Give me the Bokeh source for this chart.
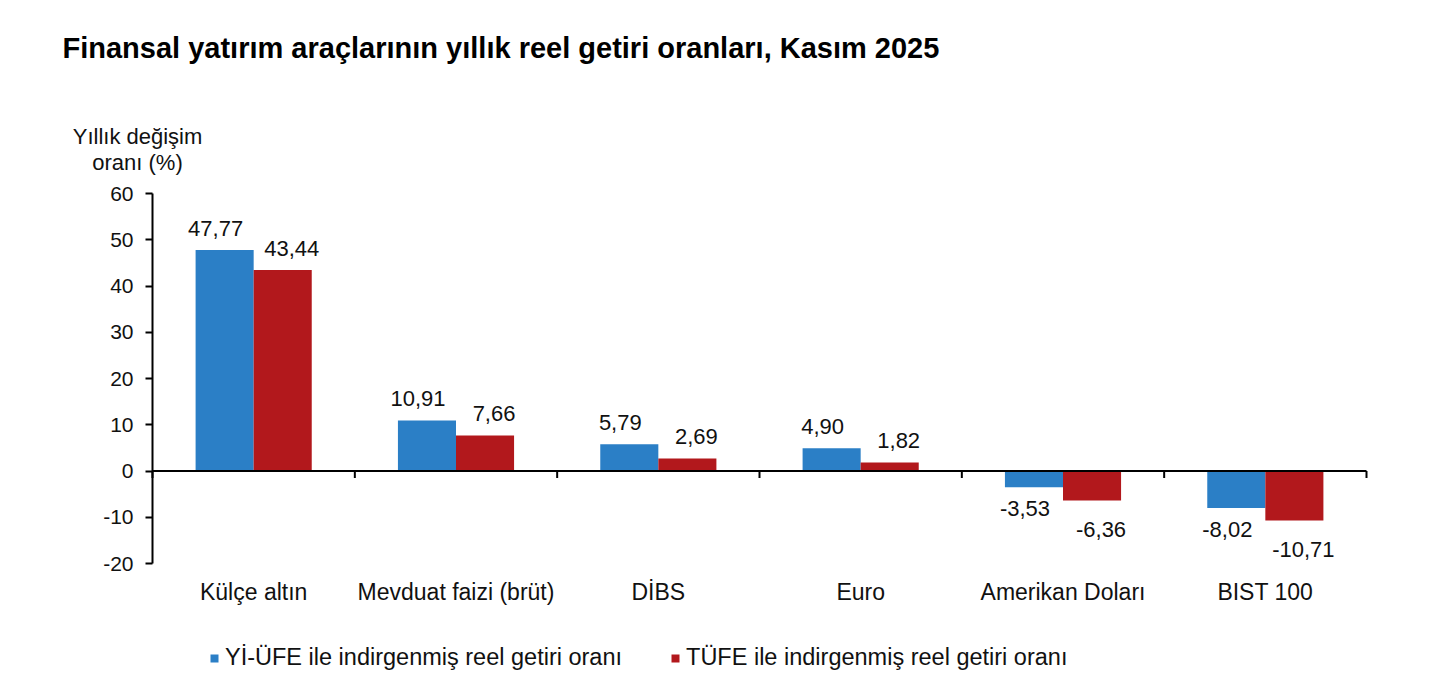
from bokeh.plotting import figure
from bokeh.models import (ColumnDataSource, FixedTicker, Label, LabelSet, Legend,
                          LegendItem, Range1d)
from bokeh.core.properties import value
from bokeh.embed import file_html
from bokeh.resources import INLINE

# data
categories = ["Külçe altın", "Mevduat faizi (brüt)", "DİBS", "Euro",
              "Amerikan Doları", "BIST 100"]
yi_ufe = [47.77, 10.91, 5.79, 4.90, -3.53, -8.02]
tufe = [43.44, 7.66, 2.69, 1.82, -6.36, -10.71]
series_names = ["Yİ-ÜFE ile indirgenmiş reel getiri oranı",
                "TÜFE ile indirgenmiş reel getiri oranı"]
y_ticks = [-20, -10, 0, 10, 20, 30, 40, 50, 60]
title = "Finansal yatırım araçlarının yıllık reel getiri oranları, Kasım 2025"
y_title = ["Yıllık değişim", "oranı (%)"]

BLUE = "#2b7fc6"
RED = "#b2181c"
FONT = "Liberation Sans"
TXT = "#111111"

n = len(categories)
bar_w = 0.287
centers = [i + 0.5 for i in range(n)]
seps = list(range(n + 1))

# page geometry: the frame covers the whole picture, the axes sit inside it
LEFT, TOP = 60, 0                 # frame corner on the page
AX_X, AX_TOP, AX_BOT = 152, 193, 563   # y axis position on the page
FRAME_W, FRAME_H = 1316, 684
ux = 1214 / n                      # px per category
uy = (AX_BOT - AX_TOP) / (y_ticks[-1] - y_ticks[0])

def dx(px):
    return (px - AX_X) / ux

def dy(py):
    return y_ticks[-1] + (AX_TOP - py) / uy

def fmt(v):
    return ("%.2f" % v).replace(".", ",")

def src(vals, shift, neg_off):
    return ColumnDataSource(dict(
        x=[c + shift for c in centers],
        top=vals,
        lab=[fmt(v) for v in vals],
        yoff=[22 if v >= 0 else neg_off for v in vals],
    ))

s_blue = src(yi_ufe, -bar_w / 2, -21)
s_red = src(tufe, bar_w / 2, -29)

p = figure(frame_width=FRAME_W, frame_height=FRAME_H, output_backend="svg",
           toolbar_location=None, x_axis_type=None,
           x_range=Range1d(dx(LEFT), dx(LEFT + FRAME_W)),
           y_range=Range1d(dy(TOP + FRAME_H), dy(TOP)),
           min_border_left=LEFT, min_border_right=0, min_border_top=TOP,
           min_border_bottom=0)
p.outline_line_color = None
p.grid.visible = False

r1 = p.vbar(x="x", top="top", bottom=0, width=bar_w, source=s_blue,
            fill_color=BLUE, line_color=None)
r2 = p.vbar(x="x", top="top", bottom=0, width=bar_w, source=s_red,
            fill_color=RED, line_color=None)

# zero line with category separators
p.segment(x0=[seps[0]], x1=[seps[-1]], y0=[0], y1=[0], line_color="black",
          line_width=2)
p.segment(x0=seps, x1=seps, y0=[0] * len(seps), y1=[-7 / uy] * len(seps),
          line_color="black", line_width=2)

# y axis, drawn at x = 0 inside the frame
p.yaxis.fixed_location = 0
p.yaxis.bounds = (y_ticks[0], y_ticks[-1])
p.yaxis.ticker = FixedTicker(ticks=y_ticks)
p.yaxis.major_label_overrides = {t: str(t) for t in y_ticks}
p.yaxis.axis_line_color = "black"
p.yaxis.axis_line_width = 2
p.yaxis.major_tick_line_width = 2
p.yaxis.major_tick_out = 7
p.yaxis.major_tick_in = 0
p.yaxis.minor_tick_line_color = None
p.yaxis.major_label_text_font = FONT
p.yaxis.major_label_text_font_size = "21px"
p.yaxis.major_label_text_color = TXT
p.yaxis.major_label_standoff = 12

# category labels under the plot
cat_src = ColumnDataSource(dict(x=centers, y=[y_ticks[0]] * n, t=categories))
p.add_layout(LabelSet(x="x", y="y", text="t", source=cat_src, y_offset=-28,
                      text_font=value(FONT), text_font_size="23px",
                      text_color=TXT, text_align="center", text_baseline="middle"))

# value labels
lab_kw = dict(text="lab", y="top", y_offset="yoff", text_font=value(FONT),
              text_font_size="22px", text_color=TXT, text_align="center",
              text_baseline="middle")
p.add_layout(LabelSet(x="x", source=s_blue, x_offset=-9, **lab_kw))
p.add_layout(LabelSet(x="x", source=s_red, x_offset=9, **lab_kw))

# title and y axis title
p.add_layout(Label(x=dx(62), y=dy(47), text=title, text_font=FONT,
                   text_font_size="29px", text_font_style="bold",
                   text_color="#000000", text_baseline="middle"))
for txt, py in zip(y_title, [136, 162]):
    p.add_layout(Label(x=dx(137), y=dy(py), text=txt, text_font=FONT,
                       text_font_size="22px", text_color=TXT,
                       text_align="center", text_baseline="middle"))

# legend
legend = Legend(items=[LegendItem(label=series_names[0], renderers=[r1]),
                       LegendItem(label=series_names[1], renderers=[r2])],
                orientation="horizontal", location=(149, 13),
                label_text_font=FONT, label_text_font_size="23.5px",
                label_text_color=TXT, glyph_width=10, glyph_height=10,
                spacing=48, border_line_color=None, background_fill_alpha=0,
                label_standoff=6, margin=0, padding=4)
p.add_layout(legend)

open("out.html", "w").write(file_html(p, INLINE))
